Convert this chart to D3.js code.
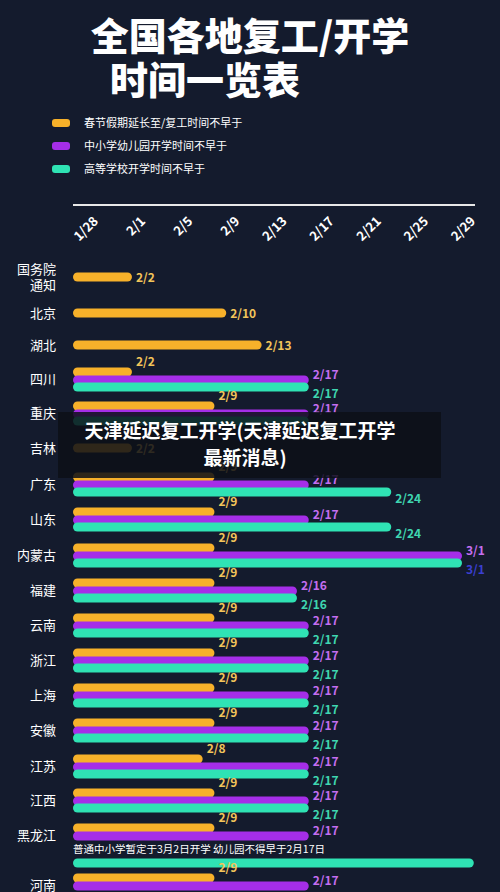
<!DOCTYPE html><html><head><meta charset="utf-8">
<script src="https://cdn.jsdelivr.net/npm/d3@7"></script>
<style>body{margin:0;background:#141b2d}</style></head><body>
<script>
const provinces=["国务院\n通知","北京","湖北","四川","重庆","吉林","广东","山东","内蒙古","福建","云南","浙江","上海","安徽","江苏","江西","黑龙江","河南"];
const workDates=["2/2","2/10","2/13","2/2","2/9","2/2","2/9","2/9","2/9","2/9","2/9","2/9","2/9","2/9","2/8","2/9","2/9","2/9"];
const schoolDates=[null,null,null,"2/17","2/17",null,"2/17","2/17","3/1","2/16","2/17","2/17","2/17","2/17","2/17","2/17","2/17","2/17"];
const collegeDates=[null,null,null,"2/17","2/17",null,"2/24","2/24","3/1","2/16","2/17","2/17","2/17","2/17","2/17","2/17","3/2",null];
const rowY=[277,313,345,379,413,448,484,519,555,590,625,660,695,730,766,800,835,885];
const tickLabels=["1/28","2/1","2/5","2/9","2/13","2/17","2/21","2/25","2/29"];
const legendLabels=["春节假期延长至/复工时间不早于","中小学幼儿园开学时间不早于","高等学校开学时间不早于"];
const colors=["#f7b12a","#a52ee8","#2fe3b4"];
const labelColors=["#f2c45a","#c46ef0","#3fd6b0"];
const toDate=s=>{const [m,d]=s.split("/").map(Number);return new Date(2020,m-1,d);};
const W=500,H=892;
const svg=d3.select("body").append("svg").attr("width",W).attr("height",H).style("font-family","'Noto Sans CJK SC',sans-serif");
svg.append("rect").attr("width",W).attr("height",H).attr("fill","#141b2d");
const x=d3.scaleTime().domain([toDate("1/28"),toDate("3/1")]).range([73,462]);
svg.append("text").attr("x",250).attr("y",50).attr("text-anchor","middle").attr("fill","#fff").attr("font-size",38).attr("font-weight",900).text("全国各地复工/开学");
svg.append("text").attr("x",205).attr("y",94).attr("text-anchor","middle").attr("fill","#fff").attr("font-size",38).attr("font-weight",900).text("时间一览表");
legendLabels.forEach((t,i)=>{const y=123+i*23;
 svg.append("rect").attr("x",52).attr("y",y-4).attr("width",18).attr("height",8).attr("rx",3).attr("fill",colors[i]);
 svg.append("text").attr("x",84).attr("y",y+4).attr("fill","#fff").attr("font-size",11).text(t);});
svg.append("line").attr("x1",73).attr("x2",475).attr("y1",205).attr("y2",205).attr("stroke","#e8e8e8").attr("stroke-width",2);
tickLabels.forEach(t=>{const px=x(toDate(t))+26;
 svg.append("text").attr("transform",`translate(${px},222) rotate(-45)`).attr("text-anchor","end").attr("fill","#fff").attr("font-size",13).attr("font-weight",700).text(t);});
const x0=x(toDate("1/28"));
function bar(y,date,i){const w=x(toDate(date))-x0;
 svg.append("rect").attr("x",x0).attr("y",y-4.5).attr("width",w).attr("height",9).attr("rx",4.5).attr("fill",colors[i]);}
provinces.forEach((p,k)=>{const cy=rowY[k];const lines=p.split("\n");
 lines.forEach((l,j)=>svg.append("text").attr("x",56).attr("y",cy+5+(j-(lines.length-1)/2)*16).attr("text-anchor","end").attr("fill","#fff").attr("font-size",13).text(l));
 const multi=schoolDates[k]!==null;
 const yo=multi?cy-7:cy, yp=cy+1, yt=cy+8;
 bar(yo,workDates[k],0);
 svg.append("text").attr("x",x(toDate(workDates[k]))+4).attr("y",multi?yo-6:yo+5).attr("fill",labelColors[0]).attr("font-size",12).attr("font-weight",700).text(workDates[k]);
 if(multi){bar(yp,schoolDates[k],1);
  svg.append("text").attr("x",x(toDate(schoolDates[k]))+4).attr("y",yp-1).attr("fill",labelColors[1]).attr("font-size",12).attr("font-weight",700).text(schoolDates[k]);}
 if(collegeDates[k]){
  if(p==="黑龙江"){svg.append("text").attr("x",x0).attr("y",cy+18).attr("fill","#fff").attr("font-size",10.5).text("普通中小学暂定于3月2日开学 幼儿园不得早于2月17日");
   bar(cy+28,collegeDates[k],2);}
  else{bar(yt,collegeDates[k],2);
   svg.append("text").attr("x",x(toDate(collegeDates[k]))+4).attr("y",yt+11).attr("fill",k===8?"#3b3fd0":labelColors[2]).attr("font-size",12).attr("font-weight",700).text(collegeDates[k]);}}
});
svg.append("rect").attr("x",58).attr("y",412).attr("width",383).attr("height",66).attr("fill","#0c0f17").attr("opacity",0.85);
svg.append("text").attr("x",240).attr("y",438).attr("text-anchor","middle").attr("fill","#fff").attr("font-size",19).attr("font-weight",700).text("天津延迟复工开学(天津延迟复工开学");
svg.append("text").attr("x",245).attr("y",465).attr("text-anchor","middle").attr("fill","#fff").attr("font-size",19).attr("font-weight",700).text("最新消息)");
</script></body></html>
